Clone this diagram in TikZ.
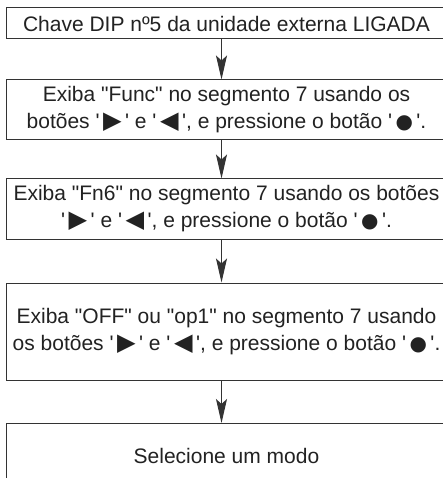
\documentclass[tikz,border=0pt]{standalone}
\usepackage{fontspec}
\usetikzlibrary{arrows.meta,calc}
\newfontfamily\mainf{Liberation Sans}
\newfontfamily\symf{DejaVu Sans}
\newcommand{\tri}{{\symf\scalebox{1.15}{▶}}}
\newcommand{\trl}{{\symf\scalebox{1.15}{◀}}}
\newcommand{\dotb}{{\symf\scalebox{0.95}{●}}}
\newcommand{\q}[1]{'\,#1\,'}
\definecolor{ln}{HTML}{333333}
\definecolor{tx}{HTML}{222222}
\tikzset{
  stepbox/.style={draw=ln, line width=1pt, minimum width=441pt, align=center, inner sep=0pt,
     font=\mainf\fontsize{21}{27}\selectfont, text=tx},
  arr/.style={draw=ln, line width=1pt, -{Stealth[length=24pt,width=11pt,inset=5pt]}}
}
\begin{document}
\begin{tikzpicture}[x=1pt,y=-1pt]
\useasboundingbox (0,0) rectangle (443,478);
\fill[white] (0,0) rectangle (443,478);
\coordinate (ax) at (221.5,0);
\node[stepbox, minimum height=31pt] (b1) at (226.5,23.5) {Chave DIP nº5 da unidade externa LIGADA};
\node[stepbox, minimum height=60pt] (b2) at (226.5,110) {Exiba "Func" no segmento 7 usando os\\botões \q{\tri} e \q{\trl}, e pressione o botão \q{\dotb}.};
\node[stepbox, minimum height=60pt] (b3) at (226.5,209) {Exiba "Fn6" no segmento 7 usando os botões\\\q{\tri} e \q{\trl}, e pressione o botão \q{\dotb}.};
\node[stepbox, minimum height=97pt] (b4) at (226.5,331.5) {Exiba "OFF" ou "op1" no segmento 7 usando\\os botões \q{\tri} e \q{\trl}, e pressione o botão \q{\dotb}.};
\node[stepbox, minimum height=64pt, anchor=north] (b5) at (226.5,423) {Selecione um modo};
\draw[arr] (b1.south -| ax) -- (b2.north -| ax);
\draw[arr] (b2.south -| ax) -- (b3.north -| ax);
\draw[arr] (b3.south -| ax) -- (b4.north -| ax);
\draw[arr] (b4.south -| ax) -- (b5.north -| ax);
\end{tikzpicture}
\end{document}
